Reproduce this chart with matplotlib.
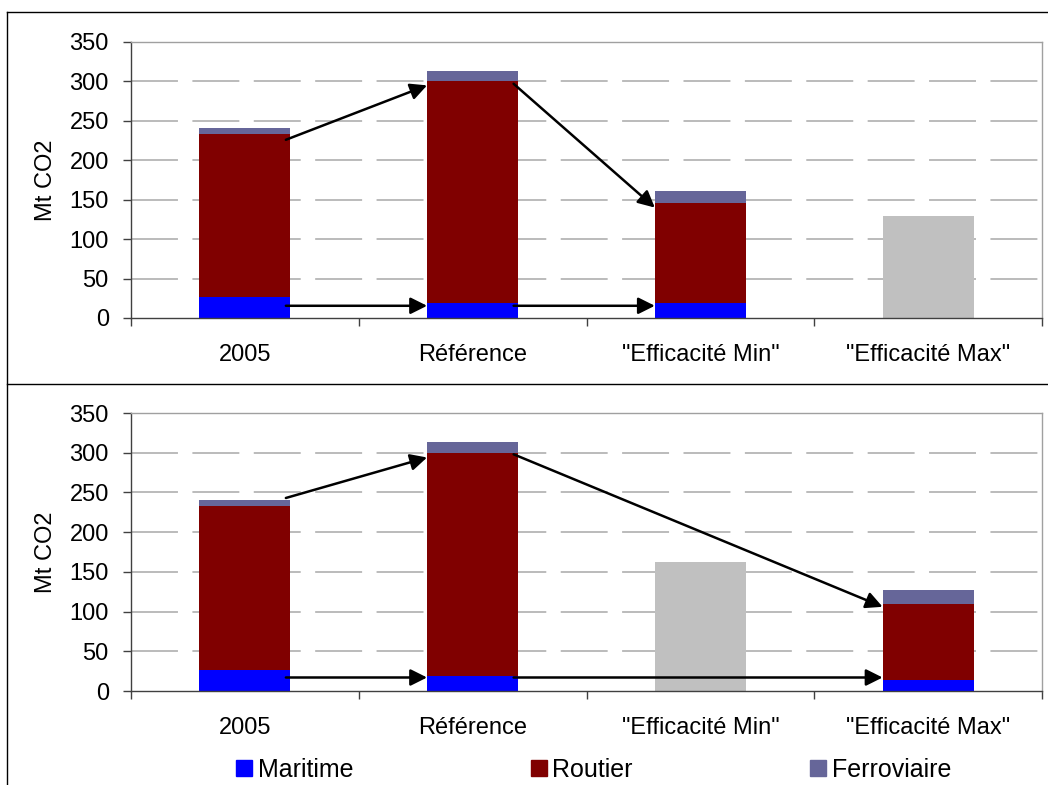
import numpy as np
import matplotlib
matplotlib.use("Agg")
import matplotlib.pyplot as plt
from matplotlib.lines import Line2D
from matplotlib.patches import Patch

plt.rcParams['font.family'] = ['Liberation Sans', 'DejaVu Sans']
plt.rcParams['lines.scale_dashes'] = False

# Données (Mt CO2)
categories = ['2005', 'Référence', '"Efficacité Min"', '"Efficacité Max"']
series_names = ['Maritime', 'Routier', 'Ferroviaire']
colors = ['#0000FF', '#800000', '#666699']
other_color = '#C0C0C0'

# scénario "Efficacité Min" (panneau du haut)
top_maritime = [26.5, 19, 19, 0]
top_routier = [207, 281, 127, 0]
top_ferro = [7.5, 13, 15, 0]
top_other = [0, 0, 0, 129]

# scénario "Efficacité Max" (panneau du bas)
bot_maritime = [27, 19, 0, 14]
bot_routier = [206, 281, 0, 96]
bot_ferro = [8, 13, 0, 17.5]
bot_other = [0, 0, 163, 0]

# flèches : (catégorie départ, catégorie arrivée, y départ, y arrivée)
top_arrows = [(0, 1, 226, 295), (1, 2, 297, 140), (0, 1, 15.5, 15.5), (1, 2, 15.5, 15.5)]
bot_arrows = [(0, 1, 243, 294), (1, 3, 298, 106), (0, 1, 17, 17), (1, 3, 17, 17)]

W, H = 1048, 785
fig = plt.figure(figsize=(W / 100, H / 100), dpi=100)
ax_top = fig.add_axes([131 / W, 1 - 318 / H, 911 / W, 276 / H])
ax_bot = fig.add_axes([131 / W, 1 - 691 / H, 911 / W, 278 / H])

x = np.arange(len(categories))
bar_w = 0.4


def draw_panel(ax, maritime, routier, ferro, other, arrows):
    maritime = np.array(maritime, dtype=float)
    routier = np.array(routier, dtype=float)
    ferro = np.array(ferro, dtype=float)
    ax.bar(x, maritime, bar_w, color=colors[0], zorder=2)
    ax.bar(x, routier, bar_w, bottom=maritime, color=colors[1], zorder=2)
    ax.bar(x, ferro, bar_w, bottom=maritime + routier, color=colors[2], zorder=2)
    ax.bar(x, other, bar_w, color=other_color, zorder=2)

    ax.set_xlim(-0.5, 3.5)
    ax.set_ylim(0, 350)
    ax.set_yticks(range(0, 351, 50))
    for y in range(50, 350, 50):
        ax.axhline(y, color='#A8A8A8', lw=1.1, ls=(0, (33.8, 10.4)), zorder=0)

    ax.set_xticks(x)
    ax.set_xticklabels(categories)
    ax.set_xticks(np.arange(-0.5, 3.6, 1), minor=True)
    ax.tick_params(axis='x', which='major', length=0, pad=19, labelsize=17)
    ax.tick_params(axis='x', which='minor', length=6, width=1, color='#404040', direction='out')
    ax.tick_params(axis='y', length=6, width=1, color='#404040', pad=10, labelsize=17)

    for s in ['top', 'right']:
        ax.spines[s].set_color('#A0A0A0')
        ax.spines[s].set_linewidth(1)
    for s in ['left', 'bottom']:
        ax.spines[s].set_color('#404040')
        ax.spines[s].set_linewidth(1)

    ax.set_ylabel('Mt CO2', fontsize=17)
    ax.yaxis.set_label_coords(-0.081, 0.5)

    for i0, i1, y0, y1 in arrows:
        ax.annotate('', xy=(i1 - 0.2, y1), xytext=(i0 + 0.18, y0),
                    arrowprops=dict(arrowstyle='-|>,head_length=0.5,head_width=0.25',
                                    mutation_scale=20, lw=1.8, color='black',
                                    shrinkA=0, shrinkB=0),
                    zorder=5)


draw_panel(ax_top, top_maritime, top_routier, top_ferro, top_other, top_arrows)
draw_panel(ax_bot, bot_maritime, bot_routier, bot_ferro, bot_other, bot_arrows)

# cadres des deux graphiques
fig.add_artist(Line2D([7 / W, 1], [1 - 12 / H] * 2, transform=fig.transFigure, color='black', lw=1))
fig.add_artist(Line2D([7 / W, 1], [1 - 383.5 / H] * 2, transform=fig.transFigure, color='black', lw=1))
fig.add_artist(Line2D([7 / W] * 2, [1 - 12 / H, 0], transform=fig.transFigure, color='black', lw=1))

handles = [Patch(color=c) for c in colors]
fig.legend(handles, series_names, loc='center left', bbox_to_anchor=(236 / W, 1 - 770 / H),
           ncol=3, frameon=False, fontsize=18, handlelength=0.64, handleheight=0.64,
           handletextpad=0.24, columnspacing=7.08, borderpad=0, borderaxespad=0)

fig.savefig('out.png', dpi=100)
